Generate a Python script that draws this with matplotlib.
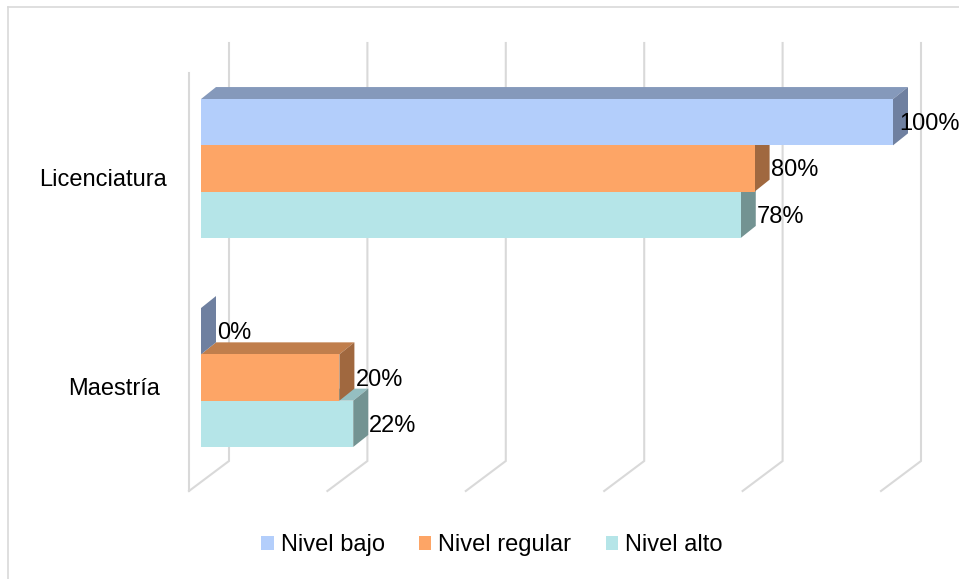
import matplotlib
matplotlib.use("Agg")
import matplotlib.pyplot as plt
from matplotlib.patches import Polygon, Patch
from matplotlib.lines import Line2D

plt.rcParams['font.family'] = ['Liberation Sans', 'DejaVu Sans']

# ---- data ----
categories = ["Licenciatura", "Maestría"]
series_names = ["Nivel bajo", "Nivel regular", "Nivel alto"]
values = {
    "Nivel bajo":    [100, 0],
    "Nivel regular": [80, 20],
    "Nivel alto":    [78, 22],
}
grid_ticks = [0, 20, 40, 60, 80, 100]

front_colors = {"Nivel bajo": "#b3cefb", "Nivel regular": "#fda566", "Nivel alto": "#b5e5e8"}
top_colors = {"Nivel bajo": "#8599bb", "Nivel regular": "#c07e4c", "Nivel alto": "#95bfc1"}
side_colors = {"Nivel bajo": "#6f80a0", "Nivel regular": "#a0683f", "Nivel alto": "#739392"}

W, H, DPI = 959, 579, 100
fig = plt.figure(figsize=(W / DPI, H / DPI), dpi=DPI)
ax = fig.add_axes([0, 0, 1, 1])

# scale: value units along x, category units along y (inverted)
px_per_pct = 6.92
x_zero_px = 201
px_per_cat = 209
cat0_px = 168.5
ax.set_xlim(-x_zero_px / px_per_pct, (W - x_zero_px) / px_per_pct)
ax.set_ylim((H - cat0_px) / px_per_cat, -cat0_px / px_per_cat)
ax.axis("off")

def dxu(px):
    return px / px_per_pct

def dyu(px):
    return px / px_per_cat

# depth of the bars and of the chart walls (in screen pixels)
bar_dx, bar_dy = dxu(15), dyu(-12)
grid_color = "#d9d9d9"
grid_lw = 1.5
back_x, front_x = dxu(28), dxu(-12)
wall_top = dyu(43 - cat0_px)
floor_back = dyu(461 - cat0_px)
floor_front = dyu(491 - cat0_px)
wall_front_top = dyu(73 - cat0_px)

# back wall / floor gridlines
for t in grid_ticks:
    ax.plot([t + back_x, t + back_x, t + front_x], [wall_top, floor_back, floor_front],
            color=grid_color, lw=grid_lw, solid_joinstyle="miter", zorder=1)
# left side wall edge
ax.plot([front_x, front_x], [wall_front_top, floor_front], color=grid_color, lw=grid_lw, zorder=1)

# bars: three stacked bars per category
bar_h = dyu(46.3)
n = len(series_names)
for ci, cat in enumerate(categories):
    group_top = ci - n * bar_h / 2
    # draw the lowest bar first so upper bars overlap its top face
    for si in reversed(range(n)):
        name = series_names[si]
        v = values[name][ci]
        y0 = group_top + si * bar_h
        y1 = y0 + bar_h
        top = Polygon([(0, y0), (v, y0), (v + bar_dx, y0 + bar_dy), (bar_dx, y0 + bar_dy)],
                      closed=True, facecolor=top_colors[name], edgecolor="none", zorder=2)
        side = Polygon([(v, y0), (v + bar_dx, y0 + bar_dy), (v + bar_dx, y1 + bar_dy), (v, y1)],
                       closed=True, facecolor=side_colors[name], edgecolor="none", zorder=2)
        front = Polygon([(0, y0), (v, y0), (v, y1), (0, y1)],
                        closed=True, facecolor=front_colors[name], edgecolor="none", zorder=2)
        for p in (top, side, front):
            ax.add_patch(p)
        lx = min(v + bar_dx + dxu(1), 100.87)
        ax.text(lx, (y0 + y1) / 2 + dyu(2), f"{v}%", ha="left", va="center",
                fontsize=17, color="#000000", zorder=4)

# category labels
for ci, cat in enumerate(categories):
    ax.text(dxu(167 - 6.5 * ci - x_zero_px), ci + dyu(11.5), cat, ha="right", va="center",
            fontsize=17, color="#000000")

# legend
handles = [Patch(facecolor=front_colors[s], edgecolor="none") for s in series_names]
fig.legend(handles, series_names, loc="center", bbox_to_anchor=(492 / W, 1 - 545 / H),
           ncol=3, frameon=False, fontsize=17, handlelength=0.52, handleheight=0.52,
           handletextpad=0.3, columnspacing=1.45, borderpad=0)

# chart area border (top and left edges)
fig.add_artist(Line2D([8 / W, 1], [1 - 7 / H, 1 - 7 / H], transform=fig.transFigure,
                      color=grid_color, lw=1.2))
fig.add_artist(Line2D([8 / W, 8 / W], [0, 1 - 7 / H], transform=fig.transFigure,
                      color=grid_color, lw=1.2))

fig.savefig("out.png", dpi=DPI)
